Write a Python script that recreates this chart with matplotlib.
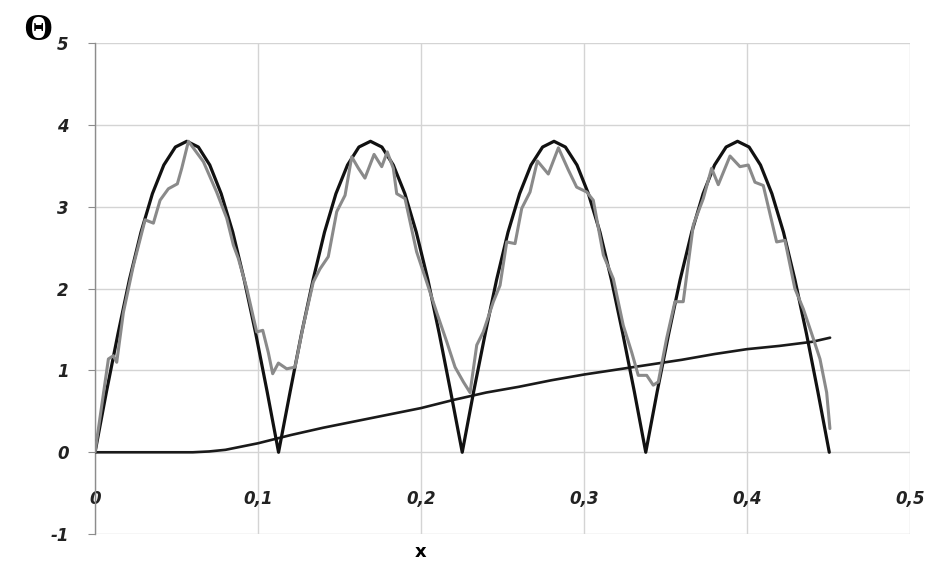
import matplotlib
matplotlib.use("Agg")
import matplotlib.pyplot as plt

# exact solution: four arches over 0..0.45
x_exact = [0.0, 0.0070, 0.0141, 0.0211, 0.0282, 0.0352, 0.0422, 0.0493, 0.0563,
           0.0634, 0.0704, 0.0774, 0.0845, 0.0915, 0.0986, 0.1056, 0.1126,
           0.1197, 0.1267, 0.1338, 0.1408, 0.1478, 0.1549, 0.1619, 0.1690,
           0.1760, 0.1830, 0.1901, 0.1971, 0.2042, 0.2112, 0.2182, 0.2253,
           0.2323, 0.2394, 0.2464, 0.2534, 0.2605, 0.2675, 0.2746, 0.2816,
           0.2886, 0.2957, 0.3027, 0.3098, 0.3168, 0.3238, 0.3309, 0.3379,
           0.3449, 0.3520, 0.3590, 0.3661, 0.3731, 0.3801, 0.3872, 0.3942,
           0.4013, 0.4083, 0.4153, 0.4224, 0.4294, 0.4365, 0.4435, 0.4505]
arch = [0.0, 0.74, 1.45, 2.11, 2.69, 3.16, 3.51, 3.73, 3.80,
        3.73, 3.51, 3.16, 2.69, 2.11, 1.45, 0.74]
y_exact = arch * 4 + [0.0]

# numerical solution (grey)
x_num = [0.0, 0.0082, 0.0112, 0.0133, 0.0174, 0.0235, 0.0307, 0.0358, 0.0399,
         0.0450, 0.0505, 0.0532, 0.0573, 0.0665, 0.0746, 0.0808, 0.0849, 0.0879,
         0.0931, 0.0992, 0.1029, 0.1063, 0.1090, 0.1125, 0.1176, 0.1227, 0.1278,
         0.1339, 0.1380, 0.1431, 0.1483, 0.1534, 0.1575, 0.1616, 0.1656, 0.1712,
         0.1759, 0.1793, 0.1830, 0.1851, 0.1902, 0.1973, 0.2035, 0.2096, 0.2158,
         0.2209, 0.2260, 0.2301, 0.2342, 0.2382, 0.2444, 0.2485, 0.2526, 0.2577,
         0.2618, 0.2669, 0.2714, 0.2781, 0.2843, 0.2904, 0.2955, 0.3017, 0.3057,
         0.3119, 0.3180, 0.3241, 0.3293, 0.3333, 0.3385, 0.3425, 0.3456, 0.3507,
         0.3558, 0.3609, 0.3671, 0.3732, 0.3783, 0.3824, 0.3896, 0.3957, 0.4008,
         0.4049, 0.4100, 0.4182, 0.4233, 0.4294, 0.4346, 0.4407, 0.4448, 0.4489,
         0.4509]
y_num = [0.0, 1.14, 1.18, 1.10, 1.71, 2.28, 2.84, 2.80, 3.08,
         3.22, 3.28, 3.47, 3.80, 3.55, 3.18, 2.86, 2.53, 2.37,
         2.00, 1.47, 1.49, 1.22, 0.96, 1.09, 1.02, 1.04, 1.55,
         2.08, 2.24, 2.39, 2.94, 3.14, 3.61, 3.47, 3.35, 3.64,
         3.49, 3.67, 3.47, 3.16, 3.10, 2.45, 2.08, 1.71, 1.35,
         1.04, 0.86, 0.73, 1.31, 1.47, 1.84, 2.04, 2.57, 2.55,
         2.98, 3.18, 3.56, 3.40, 3.72, 3.45, 3.24, 3.18, 3.08,
         2.41, 2.12, 1.55, 1.22, 0.94, 0.94, 0.82, 0.86, 1.39,
         1.84, 1.84, 2.78, 3.10, 3.47, 3.27, 3.62, 3.49, 3.51,
         3.30, 3.26, 2.57, 2.59, 2.00, 1.75, 1.39, 1.14, 0.73,
         0.29]

# slowly growing curve
x_slow = [0.0, 0.06, 0.07, 0.08, 0.09, 0.10, 0.11, 0.12, 0.14, 0.16, 0.18,
          0.20, 0.22, 0.24, 0.26, 0.28, 0.30, 0.32, 0.34, 0.36, 0.38, 0.40,
          0.42, 0.44, 0.451]
y_slow = [0.0, 0.0, 0.01, 0.03, 0.07, 0.11, 0.16, 0.21, 0.30, 0.38, 0.46,
          0.54, 0.64, 0.73, 0.80, 0.88, 0.95, 1.01, 1.07, 1.13, 1.20, 1.26,
          1.30, 1.35, 1.40]

xticks = [0, 0.1, 0.2, 0.3, 0.4, 0.5]
xtick_labels = ["0", "0,1", "0,2", "0,3", "0,4", "0,5"]
yticks = [-1, 0, 1, 2, 3, 4, 5]

fig = plt.figure(figsize=(9.41, 5.67), dpi=100)
ax = fig.add_axes([0.101, 0.058, 0.866, 0.866])

line_kw = dict(solid_joinstyle="round", solid_capstyle="round")
ax.plot(x_slow, y_slow, color="#1a1a1a", lw=1.9, zorder=3, **line_kw)
ax.plot(x_exact, y_exact, color="#111111", lw=2.3, zorder=4, **line_kw)
ax.plot(x_num, y_num, color="#8a8a8a", lw=2.2, zorder=5, **line_kw)

ax.set_xlim(0, 0.5)
ax.set_ylim(-1, 5)
ax.set_xticks(xticks)
ax.set_xticklabels(xtick_labels)
ax.set_yticks(yticks)
ax.set_yticklabels([str(v) for v in yticks])
ax.grid(True, color="#d4d4d4", lw=1.0)
ax.set_axisbelow(True)

for s in ["top", "right"]:
    ax.spines[s].set_visible(False)
ax.spines["bottom"].set_position(("data", 0))
ax.spines["bottom"].set_visible(False)
ax.spines["left"].set_color("#8c8c8c")
ax.spines["left"].set_linewidth(1.0)

ax.tick_params(axis="y", length=5, color="#8c8c8c", pad=14)
ax.tick_params(axis="x", length=0, pad=27)
for lab in ax.get_xticklabels() + ax.get_yticklabels():
    lab.set_fontsize(12)
    lab.set_fontweight("bold")
    lab.set_fontstyle("italic")
    lab.set_color("#222222")

fig.text(0.040, 0.946, "Θ", fontsize=27, fontweight="bold", family="Liberation Serif",
         ha="center", va="center")
fig.text(0.447, 0.027, "x", fontsize=13, fontweight="bold", ha="center", va="center")

fig.savefig("out.png", dpi=100, facecolor="white")
